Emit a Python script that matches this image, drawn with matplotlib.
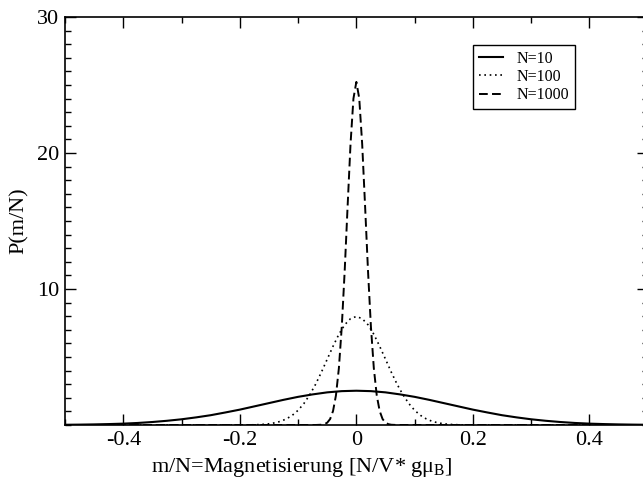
import matplotlib
matplotlib.use("Agg")
import matplotlib.pyplot as plt
from matplotlib.ticker import MultipleLocator, FixedLocator

plt.rcParams['font.family'] = ['Liberation Serif', 'DejaVu Serif']
plt.rcParams['mathtext.fontset'] = 'custom'
plt.rcParams['mathtext.rm'] = 'Liberation Serif'
plt.rcParams['mathtext.it'] = 'Liberation Serif:italic'

# ---- data ----
x_n10 = [-0.5, -0.475, -0.45, -0.425, -0.4, -0.375, -0.35, -0.325, -0.3, -0.275,
         -0.25, -0.225, -0.2, -0.175, -0.15, -0.125, -0.1, -0.075, -0.05, -0.025,
         0.0, 0.025, 0.05, 0.075, 0.1, 0.125, 0.15, 0.175, 0.2, 0.225,
         0.25, 0.275, 0.3, 0.325, 0.35, 0.375, 0.4, 0.425, 0.45, 0.475, 0.5]
y_n10 = [0.017, 0.028, 0.044, 0.068, 0.10, 0.15, 0.22, 0.31, 0.42, 0.56,
         0.72, 0.92, 1.13, 1.37, 1.61, 1.85, 2.07, 2.25, 2.40, 2.49,
         2.52, 2.49, 2.40, 2.25, 2.07, 1.85, 1.61, 1.37, 1.13, 0.92,
         0.72, 0.56, 0.42, 0.31, 0.22, 0.15, 0.10, 0.068, 0.044, 0.028, 0.017]

x_n100 = [-0.5, -0.4, -0.3, -0.2, -0.18, -0.17, -0.16, -0.15, -0.14, -0.13, -0.12,
          -0.11, -0.1, -0.09, -0.08, -0.07, -0.06, -0.05, -0.04, -0.03, -0.02, -0.01,
          0.0, 0.01, 0.02, 0.03, 0.04, 0.05, 0.06, 0.07, 0.08, 0.09, 0.1,
          0.11, 0.12, 0.13, 0.14, 0.15, 0.16, 0.17, 0.18, 0.2, 0.3, 0.4, 0.5]
y_n100 = [0.0, 0.0, 0.0, 0.003, 0.012, 0.025, 0.048, 0.089, 0.16, 0.27, 0.45,
          0.71, 1.08, 1.58, 2.22, 2.99, 3.88, 4.84, 5.79, 6.67, 7.37, 7.82,
          7.98, 7.82, 7.37, 6.67, 5.79, 4.84, 3.88, 2.99, 2.22, 1.58, 1.08,
          0.71, 0.45, 0.27, 0.16, 0.089, 0.048, 0.025, 0.012, 0.003, 0.0, 0.0, 0.0]

x_n1000 = [-0.5, -0.1, -0.07, -0.06, -0.055, -0.05, -0.045, -0.04, -0.035, -0.03,
           -0.025, -0.02, -0.015, -0.01, -0.005, 0.0, 0.005, 0.01, 0.015, 0.02,
           0.025, 0.03, 0.035, 0.04, 0.045, 0.05, 0.055, 0.06, 0.07, 0.1, 0.5]
y_n1000 = [0.0, 0.0, 0.001, 0.019, 0.06, 0.17, 0.44, 1.03, 2.18, 4.17,
           7.23, 11.34, 16.09, 20.66, 24.0, 25.23, 24.0, 20.66, 16.09, 11.34,
           7.23, 4.17, 2.18, 1.03, 0.44, 0.17, 0.06, 0.019, 0.001, 0.0, 0.0]

labels = ["N=10", "N=100", "N=1000"]
x_ticks = [-0.4, -0.2, 0.0, 0.2, 0.4]
x_ticklabels = ["-0.4", "-0.2", "0", "0.2", "0.4"]
y_ticks = [10, 20, 30]

# ---- figure ----
fig = plt.figure(figsize=(6.43, 4.82), dpi=100)
ax = fig.add_axes([65 / 643, 57 / 482, 582.7 / 643, 408 / 482])

ax.plot(x_n10, y_n10, color="black", linewidth=1.5, linestyle="-", label=labels[0])
ax.plot(x_n100, y_n100, color="black", linewidth=1.2, linestyle=(0, (1, 2.2)), label=labels[1])
ax.plot(x_n1000, y_n1000, color="black", linewidth=1.4, linestyle=(0, (4.5, 2.2)), label=labels[2])

ax.set_xlim(-0.5, 0.5)
ax.set_ylim(0, 30)

ax.xaxis.set_major_locator(FixedLocator(x_ticks))
ax.set_xticklabels(x_ticklabels)
ax.xaxis.set_minor_locator(MultipleLocator(0.1))
ax.yaxis.set_major_locator(FixedLocator(y_ticks))
ax.yaxis.set_minor_locator(MultipleLocator(1))

ax.tick_params(which="both", direction="in", top=True, right=True, labelsize=16, width=1.0)
ax.tick_params(which="major", length=8, pad=4)
ax.tick_params(which="minor", length=4)
for sp in ax.spines.values():
    sp.set_linewidth(1.2)

ax.set_xlabel("m/N=Magnetisierung [N/V* gμ$_{\\mathrm{B}}$]", fontsize=16, labelpad=0)
ax.xaxis.set_label_coords((302 - 65) / 582.7, -0.075)
ax.set_ylabel("P(m/N)", fontsize=16, labelpad=6)

leg = ax.legend(loc="upper left", bbox_to_anchor=(473 / 643, 1 - 45 / 482),
                bbox_transform=fig.transFigure, fontsize=11.5, frameon=True,
                fancybox=False, edgecolor="black", framealpha=1,
                handlelength=1.5, handletextpad=0.9, labelspacing=0.15,
                borderpad=0.35, borderaxespad=0)
leg.get_frame().set_linewidth(1.0)

fig.savefig("out.png", dpi=100)
